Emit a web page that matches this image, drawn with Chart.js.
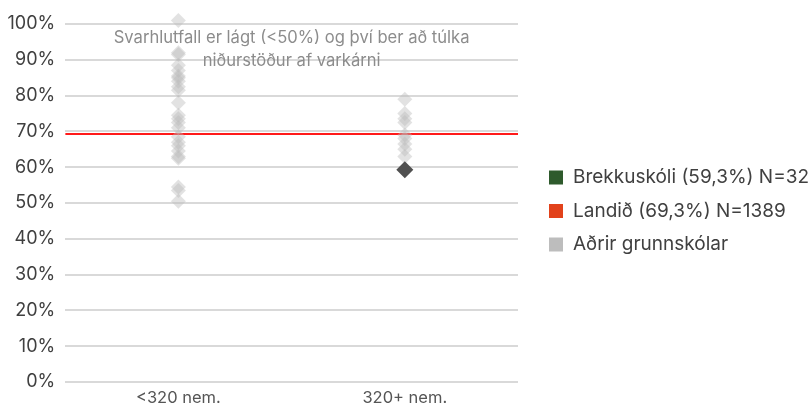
<!DOCTYPE html>
<html>
<head>
<meta charset="utf-8">
<script src="https://cdn.jsdelivr.net/npm/chart.js@4/dist/chart.umd.min.js"></script>
<style>
html,body{margin:0;padding:0;background:#fff;}
#wrap{position:relative;width:810px;height:406px;}
</style>
</head>
<body>
<div id="wrap"><canvas id="c" width="810" height="406"></canvas></div>
<script>
const categories = ['<320 nem.', '320+ nem.'];
const smallSchools = [101, 92, 91.5, 88.5, 87, 85.5, 85, 84, 82.5, 81.5, 78, 74.5, 73.5, 72.5, 71, 68.5, 67, 66, 64.5, 63, 62.5, 54.5, 53.5, 50.5];
const largeSchools = [79, 75, 73.5, 72.5, 69, 68, 66.5, 65, 63];
const schoolValue = 59.3;
const schoolCategory = 1;
const nationalValue = 69.3;
const legendLabels = ['Brekkuskóli (59,3%) N=32', 'Landið (69,3%) N=1389', 'Aðrir grunnskólar'];
const legendColors = ['#2e5a2c', '#e2421b', '#bdbdbd'];
const yTicks = [0, 10, 20, 30, 40, 50, 60, 70, 80, 90, 100];
const noteLines = ['Svarhlutfall er lágt (<50%) og því ber að túlka', 'niðurstöður af varkárni'];

const FONT = 'Inter, "Open Sans", sans-serif';

const otherPoints = [];
smallSchools.forEach(v => otherPoints.push({x: 0, y: v}));
largeSchools.forEach(v => otherPoints.push({x: 1, y: v}));

const notePlugin = {
  id: 'note',
  afterDatasetsDraw(chart) {
    const {ctx, chartArea} = chart;
    const cx = (chartArea.left + chartArea.right) / 2;
    ctx.save();
    ctx.font = '16.6px ' + FONT;
    ctx.fillStyle = '#8c8c8c';
    ctx.textAlign = 'center';
    ctx.textBaseline = 'middle';
    noteLines.forEach((t, i) => ctx.fillText(t, cx, chartArea.top + 14 + i * 23));
    ctx.restore();
  }
};

const legendPlugin = {
  id: 'sideLegend',
  afterDraw(chart) {
    const {ctx, chartArea} = chart;
    const x0 = chartArea.right + 31;
    const midY = (chartArea.top + chartArea.bottom) / 2 + 8;
    const gap = 33.5;
    ctx.save();
    ctx.font = '19px ' + FONT;
    ctx.textBaseline = 'middle';
    ctx.textAlign = 'left';
    legendLabels.forEach((t, i) => {
      const y = midY + (i - 1) * gap;
      ctx.fillStyle = legendColors[i];
      ctx.fillRect(x0, y - 7, 14, 14);
      ctx.fillStyle = '#404040';
      ctx.fillText(t, x0 + 24, y);
    });
    ctx.restore();
  }
};

new Chart(document.getElementById('c'), {
  type: 'scatter',
  data: {
    datasets: [
      {
        type: 'line',
        label: 'Landið',
        data: [{x: -0.5, y: nationalValue}, {x: 1.5, y: nationalValue}],
        borderColor: '#ff1a1a',
        borderWidth: 2,
        pointRadius: 0,
        order: 3
      },
      {
        label: 'Aðrir',
        data: otherPoints,
        pointStyle: 'rectRot',
        pointRadius: 7.5,
        backgroundColor: 'rgba(185,185,185,0.42)',
        borderWidth: 0,
        clip: false,
        order: 2
      },
      {
        label: 'Brekkuskóli',
        data: [{x: schoolCategory, y: schoolValue}],
        pointStyle: 'rectRot',
        pointRadius: 8.5,
        backgroundColor: '#505050',
        borderWidth: 0,
        clip: false,
        order: 1
      }
    ]
  },
  options: {
    responsive: false,
    animation: false,
    events: [],
    layout: {padding: {top: 24, bottom: -8.5, left: -2.5, right: 292}},
    plugins: {
      tooltip: {enabled: false},
      legend: {display: false}
    },
    scales: {
      x: {
        type: 'linear',
        min: -0.5,
        max: 1.5,
        afterBuildTicks: s => { s.ticks = categories.map((c, i) => ({value: i})); },
        ticks: {
          callback: v => categories[v],
          color: '#555',
          font: {family: FONT, size: 16.5, lineHeight: 1},
          padding: 8,
          maxRotation: 0
        },
        grid: {display: false, drawTicks: false},
        border: {display: false}
      },
      y: {
        min: 0,
        max: 100,
        afterBuildTicks: s => { s.ticks = yTicks.map(v => ({value: v})); },
        ticks: {
          callback: v => v + '%',
          color: '#404040',
          font: {family: FONT, size: 18},
          padding: 10
        },
        grid: {color: '#d9d9d9', lineWidth: 2, drawTicks: false},
        border: {display: false}
      }
    }
  },
  plugins: [notePlugin, legendPlugin]
});
</script>
</body>
</html>
